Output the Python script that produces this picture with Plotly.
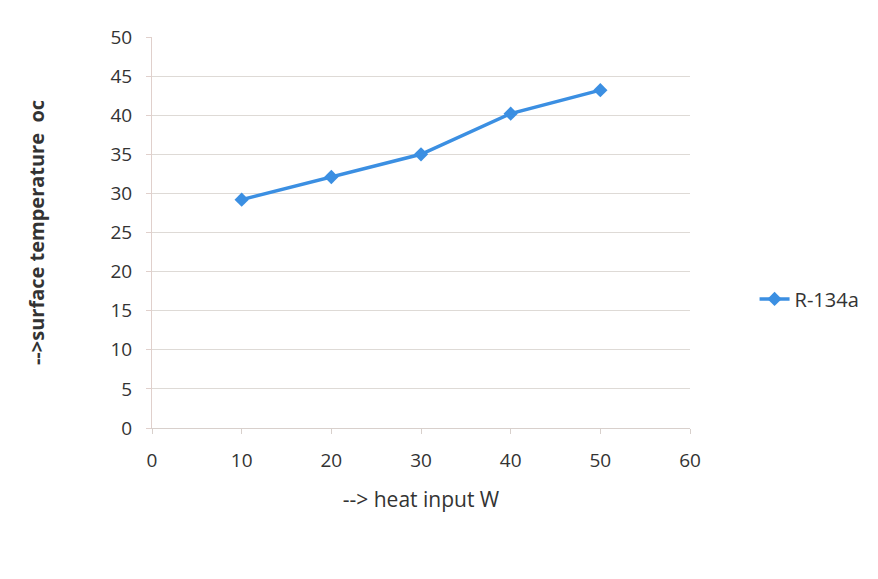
import plotly.graph_objects as go

heat_input = [10, 20, 30, 40, 50]
surface_temp = [29.2, 32.1, 35.0, 40.2, 43.2]
series_name = "R-134a"

fig = go.Figure()
fig.add_trace(go.Scatter(
    x=heat_input, y=surface_temp, name=series_name,
    mode="lines+markers",
    line=dict(color="#3b8fe2", width=3.5),
    marker=dict(symbol="diamond", size=11, color="#3b8fe2"),
))

fig.update_layout(
    width=878, height=579,
    margin=dict(l=152, r=188, t=37, b=151),
    paper_bgcolor="white", plot_bgcolor="white",
    font=dict(family="Open Sans, Liberation Sans, sans-serif", size=19, color="#333333"),
    showlegend=True,
    legend=dict(x=1.12, y=0.33, xanchor="left", yanchor="middle",
                font=dict(size=20), bgcolor="rgba(0,0,0,0)"),
    xaxis=dict(
        range=[0, 60], tickmode="array", tickvals=[0, 10, 20, 30, 40, 50, 60],
        showgrid=False, zeroline=False,
        showline=True, linecolor="#d8d0cc", linewidth=1,
        ticks="outside", ticklen=5, tickcolor="#d8d0cc",
        ticklabelstandoff=10,
        title=dict(text="--> heat input W", standoff=20, font=dict(size=21)),
        tickfont=dict(size=19),
    ),
    yaxis=dict(
        range=[0, 50], tickmode="array", tickvals=list(range(0, 51, 5)),
        showgrid=True, gridcolor="#dedad6", gridwidth=1,
        zeroline=False,
        showline=True, linecolor="#e0d0cc", linewidth=1,
        ticks="outside", ticklen=5, tickcolor="#e0d0cc",
        ticklabelstandoff=10,
        title=dict(text="<b>-->surface temperature  oc</b>", standoff=60, font=dict(size=20)),
        tickfont=dict(size=19),
    ),
)

fig.write_html("out.html")
